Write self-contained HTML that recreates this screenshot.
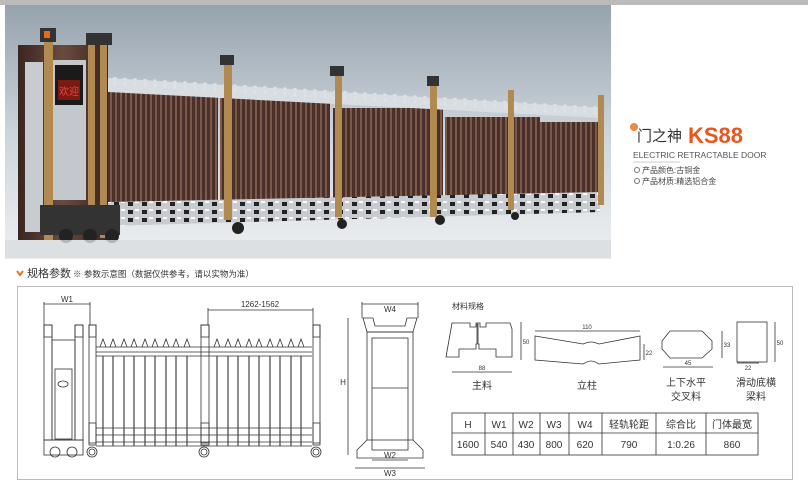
<!DOCTYPE html>
<html><head><meta charset="utf-8"><style>
html,body{margin:0;padding:0;background:#fff;width:808px;height:492px;overflow:hidden}
svg{display:block}
text{font-family:"Liberation Sans","Noto Sans CJK SC",sans-serif}
</style></head><body>
<svg width="808" height="492" viewBox="0 0 808 492" xmlns="http://www.w3.org/2000/svg">
<defs>
<linearGradient id="sky" x1="0" y1="0" x2="0" y2="1"><stop offset="0" stop-color="#96a2ad"/><stop offset="0.5" stop-color="#ccd4db"/><stop offset="1" stop-color="#eef0f2"/></linearGradient>
<linearGradient id="brn" x1="0" y1="0" x2="1" y2="0"><stop offset="0" stop-color="#3a2620"/><stop offset="0.5" stop-color="#6a4a3e"/><stop offset="1" stop-color="#3a2620"/></linearGradient>
<pattern id="slat" width="5" height="10" patternUnits="userSpaceOnUse"><rect width="5" height="10" fill="#4a3028"/><rect x="0" width="2" height="10" fill="#7a5a4c"/></pattern>
<pattern id="rail" width="14" height="8" patternUnits="userSpaceOnUse"><rect width="14" height="8" fill="#c8ccd0"/><rect x="2" y="2" width="5" height="4" fill="#222"/><rect x="9" y="1" width="4" height="2" fill="#fff"/></pattern>
<pattern id="spk" width="10" height="8" patternUnits="userSpaceOnUse"><polygon points="5,0 7,8 3,8" fill="#e0e4e8"/></pattern>
</defs>
<rect x="0" y="0" width="808" height="5" fill="#bbb"/>
<rect x="5" y="5" width="606" height="254" fill="url(#sky)"/>
<!-- gate panels -->
<rect x="108" y="88" width="110" height="118" fill="url(#slat)"/>
<rect x="220" y="98" width="110" height="103" fill="url(#slat)"/>
<rect x="333" y="108" width="110" height="92" fill="url(#slat)"/>
<rect x="445" y="117" width="95" height="84" fill="url(#slat)"/>
<rect x="540" y="122" width="60" height="75" fill="url(#slat)"/>
<polygon points="108,78 600,108 600,118 108,92" fill="#d8dde2"/>
<rect x="108" y="70" width="490" height="8" fill="url(#spk)" transform="skewY(3.5)" opacity="0.9"/>
<polygon points="108,202 600,192 600,212 108,226" fill="url(#rail)"/>
<!-- posts -->
<rect x="224" y="60" width="8" height="160" fill="#b08a50"/>
<rect x="335" y="72" width="7" height="145" fill="#b08a50"/>
<rect x="430" y="82" width="7" height="135" fill="#b08a50"/>
<rect x="508" y="90" width="6" height="120" fill="#b08a50"/>
<rect x="598" y="95" width="6" height="110" fill="#b08a50"/>
<rect x="220" y="55" width="14" height="10" fill="#333"/>
<rect x="330" y="66" width="14" height="10" fill="#333"/>
<rect x="427" y="76" width="12" height="10" fill="#333"/>
<!-- head unit -->
<rect x="18" y="45" width="90" height="195" fill="url(#brn)"/>
<rect x="25" y="62" width="18" height="170" fill="#c8ccd0"/>
<rect x="52" y="60" width="34" height="140" fill="#c4c8cc"/>
<rect x="55" y="65" width="28" height="40" fill="#1a1a1a"/>
<rect x="58" y="80" width="22" height="20" fill="#7a1a12"/>
<text x="69" y="95" font-size="10" fill="#e44" text-anchor="middle">欢迎</text>
<rect x="44" y="40" width="9" height="200" fill="#b08a50"/>
<rect x="88" y="38" width="7" height="200" fill="#b08a50"/>
<rect x="100" y="38" width="7" height="200" fill="#b08a50"/>
<rect x="40" y="28" width="16" height="14" fill="#333"/><rect x="44" y="31" width="6" height="7" fill="#e66a1a"/>
<rect x="86" y="33" width="26" height="12" fill="#333"/>
<rect x="40" y="205" width="80" height="30" fill="#333"/>
<circle cx="66" cy="236" r="7" fill="#222"/><circle cx="90" cy="236" r="7" fill="#222"/><circle cx="112" cy="236" r="7" fill="#222"/>
<circle cx="238" cy="228" r="6" fill="#222"/><circle cx="342" cy="224" r="5" fill="#222"/><circle cx="440" cy="220" r="5" fill="#222"/><circle cx="515" cy="216" r="4" fill="#222"/>
<rect x="5" y="240" width="606" height="18" fill="#d8dcdf" opacity="0.8"/>
<!-- right title -->
<circle cx="634" cy="127" r="4" fill="#f08a40"/>
<text x="637" y="141" font-size="15" fill="#333">门之神</text>
<text x="688" y="143" font-size="22" font-weight="bold" fill="#e8561a">KS88</text>
<text x="633" y="158" font-size="8.5" fill="#555" font-family="Liberation Serif,serif">ELECTRIC RETRACTABLE DOOR</text>
<line x1="633" y1="162" x2="680" y2="162" stroke="#999" stroke-width="0.6"/>
<circle cx="637" cy="170" r="2.5" fill="none" stroke="#777"/>
<text x="642" y="173" font-size="8" fill="#444">产品颜色:古铜金</text>
<circle cx="637" cy="181" r="2.5" fill="none" stroke="#777"/>
<text x="642" y="184" font-size="8" fill="#444">产品材质:精选铝合金</text>
<!-- spec heading -->
<path d="M17,271 l3,4 l3,-4" stroke="#e8731a" stroke-width="2" fill="none"/>
<text x="27" y="277" font-size="11" fill="#333">规格参数</text>
<text x="73" y="277" font-size="8.5" fill="#333">※ 参数示意图（数据仅供参考，请以实物为准）</text>
<rect x="17.5" y="286.5" width="775" height="193" fill="#fff" stroke="#bbb"/>
<g stroke="#333" stroke-width="0.8" fill="none">
<line x1="44" y1="304" x2="90" y2="304"/><line x1="44" y1="302" x2="44" y2="325"/><line x1="90" y1="302" x2="90" y2="325"/>
<rect x="44" y="325" width="8" height="115"/><rect x="75" y="325" width="8" height="115"/><rect x="89" y="325" width="7" height="120"/>
<rect x="44" y="325" width="8" height="12"/><rect x="75" y="325" width="8" height="12"/><rect x="89" y="325" width="7" height="12"/>
<rect x="52" y="340" width="23" height="100"/><rect x="55" y="369" width="17" height="70"/>
<ellipse cx="63" cy="384" rx="5" ry="3"/>
<rect x="44" y="440" width="39" height="15"/>
<circle cx="55" cy="452" r="5"/><circle cx="72" cy="452" r="5"/><circle cx="92" cy="452" r="5"/>
<line x1="96" y1="347" x2="312" y2="347"/><line x1="96" y1="352" x2="312" y2="352"/><line x1="96" y1="356" x2="312" y2="356"/>
<line x1="96" y1="428" x2="312" y2="428"/><line x1="96" y1="435" x2="312" y2="435"/><line x1="96" y1="442" x2="312" y2="442"/><line x1="96" y1="446" x2="312" y2="446"/>
<rect x="201" y="325" width="8" height="120"/><rect x="313" y="325" width="7" height="120"/>
<rect x="201" y="325" width="8" height="12"/><rect x="313" y="325" width="7" height="12"/>
<rect x="89" y="423" width="7" height="20"/><rect x="201" y="423" width="8" height="20"/><rect x="313" y="423" width="7" height="20"/>
<circle cx="92" cy="452" r="3"/><circle cx="204" cy="452" r="5"/><circle cx="204" cy="452" r="3"/><circle cx="316" cy="452" r="5"/><circle cx="316" cy="452" r="3"/>
<path d="M100,347 l3,-8 l3,8 M110,347 l3,-8 l3,8 M121,347 l3,-8 l3,8 M131,347 l3,-8 l3,8 M142,347 l3,-8 l3,8 M152,347 l3,-8 l3,8 M163,347 l3,-8 l3,8 M173,347 l3,-8 l3,8 M184,347 l3,-8 l3,8 M214,347 l3,-8 l3,8 M225,347 l3,-8 l3,8 M235,347 l3,-8 l3,8 M246,347 l3,-8 l3,8 M256,347 l3,-8 l3,8 M267,347 l3,-8 l3,8 M277,347 l3,-8 l3,8 M288,347 l3,-8 l3,8 M298,347 l3,-8 l3,8"/>
<line x1="208" y1="310" x2="313" y2="310"/><line x1="208" y1="308" x2="208" y2="325"/><line x1="313" y1="308" x2="313" y2="325"/>
<line x1="362" y1="304" x2="418" y2="304"/><line x1="362" y1="302" x2="362" y2="318"/><line x1="418" y1="302" x2="418" y2="318"/>
<line x1="348" y1="318" x2="348" y2="455"/>
<path d="M363,318 h10 l2,8 h30 l2,-8 h10 l-4,14 h-46 z"/>
<rect x="367" y="332" width="46" height="108"/>
<rect x="372" y="338" width="36" height="112"/>
<line x1="372" y1="388" x2="408" y2="388"/>
<path d="M367,440 l-10,10 v8 h66 v-8 l-10,-10"/>
<line x1="372" y1="460" x2="408" y2="460"/><line x1="355" y1="468" x2="425" y2="468"/>
<path d="M452,323 h18 v4 h6 v-4 h4 v4 h6 v-4 h24 l2,6 v28 h-16 v-8 h-17 v-5 h-1 v-20 h-1 v20 h-1 v5 h-17 v8 h-13 z"/>
<line x1="452" y1="372" x2="512" y2="372"/><line x1="521" y1="322" x2="521" y2="360"/>
<path d="M535,336 l48,8 q5,-2 8,-2 q3,0 8,2 l41,-8 l0,24 l-41,4 q-5,-3 -8,-3 q-3,0 -8,3 l-48,-4 z"/>
<line x1="535" y1="331" x2="640" y2="331"/><line x1="644" y1="344" x2="644" y2="360"/>
<path d="M670,331 h32 l10,10 v8 l-10,9 h-32 l-8,-9 v-8 z"/>
<line x1="663" y1="367" x2="713" y2="367"/><line x1="722" y1="331" x2="722" y2="358"/>
<rect x="737" y="322" width="30" height="40"/><line x1="737" y1="363" x2="759" y2="363"/>
<line x1="775" y1="322" x2="775" y2="362"/>
<rect x="452" y="413" width="306" height="42"/><line x1="452" y1="433" x2="758" y2="433"/>
<line x1="485" y1="413" x2="485" y2="455"/><line x1="513" y1="413" x2="513" y2="455"/><line x1="540" y1="413" x2="540" y2="455"/><line x1="569" y1="413" x2="569" y2="455"/><line x1="602" y1="413" x2="602" y2="455"/><line x1="656" y1="413" x2="656" y2="455"/><line x1="706" y1="413" x2="706" y2="455"/>
</g>
<g stroke="#444" stroke-width="1.2">
<line x1="103" y1="356" x2="103" y2="446"/><line x1="113" y1="356" x2="113" y2="446"/><line x1="124" y1="356" x2="124" y2="446"/><line x1="134" y1="356" x2="134" y2="446"/><line x1="145" y1="356" x2="145" y2="446"/><line x1="155" y1="356" x2="155" y2="446"/><line x1="166" y1="356" x2="166" y2="446"/><line x1="176" y1="356" x2="176" y2="446"/><line x1="187" y1="356" x2="187" y2="446"/>
<line x1="217" y1="356" x2="217" y2="446"/><line x1="228" y1="356" x2="228" y2="446"/><line x1="238" y1="356" x2="238" y2="446"/><line x1="249" y1="356" x2="249" y2="446"/><line x1="259" y1="356" x2="259" y2="446"/><line x1="270" y1="356" x2="270" y2="446"/><line x1="280" y1="356" x2="280" y2="446"/><line x1="291" y1="356" x2="291" y2="446"/><line x1="301" y1="356" x2="301" y2="446"/>
</g>
<g fill="#333" font-size="8" text-anchor="middle">
<text x="67" y="302">W1</text><text x="260" y="307">1262-1562</text><text x="390" y="312">W4</text>
<text x="343" y="385">H</text><text x="390" y="458">W2</text><text x="390" y="476">W3</text>
<text x="482" y="370" font-size="6">88</text><text x="587" y="329" font-size="6">110</text><text x="688" y="365" font-size="6">45</text><text x="748" y="370" font-size="6">22</text>
<text x="526" y="344" font-size="6">50</text><text x="649" y="355" font-size="6">22</text><text x="727" y="347" font-size="6">33</text><text x="780" y="345" font-size="6">50</text>
<text x="482" y="389" font-size="10">主料</text><text x="587" y="389" font-size="10">立柱</text>
<text x="686" y="386" font-size="10">上下水平</text><text x="686" y="400" font-size="10">交叉料</text>
<text x="756" y="386" font-size="10">滑动底横</text><text x="756" y="400" font-size="10">梁料</text>
<text x="468" y="428" font-size="10">H</text><text x="499" y="428" font-size="10">W1</text><text x="526" y="428" font-size="10">W2</text><text x="554" y="428" font-size="10">W3</text><text x="585" y="428" font-size="10">W4</text><text x="629" y="428" font-size="10">轻轨轮距</text><text x="681" y="428" font-size="10">综合比</text><text x="732" y="428" font-size="10">门体最宽</text>
<text x="468" y="448" font-size="10">1600</text><text x="499" y="448" font-size="10">540</text><text x="526" y="448" font-size="10">430</text><text x="554" y="448" font-size="10">800</text><text x="585" y="448" font-size="10">620</text><text x="629" y="448" font-size="10">790</text><text x="681" y="448" font-size="10">1:0.26</text><text x="732" y="448" font-size="10">860</text>
</g>
<text x="452" y="309" font-size="8" fill="#333">材料规格</text>
</svg>
</body></html>
